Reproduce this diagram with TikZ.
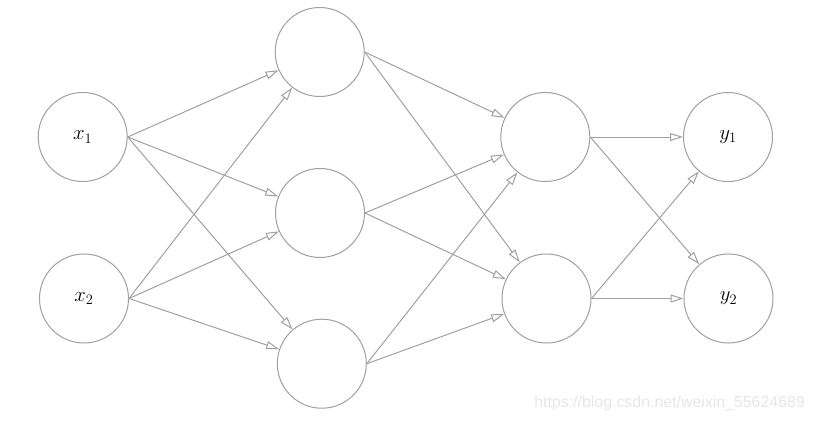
\documentclass[tikz,border=0pt]{standalone}
\usepackage{fontspec}
\usetikzlibrary{arrows.meta}
\newfontfamily\wmfont{Liberation Sans}
\definecolor{edgegray}{RGB}{160,160,160}
\definecolor{wmgray}{RGB}{230,230,230}
\begin{document}
\begin{tikzpicture}[x=1pt,y=-1pt,
  neuron/.style={circle,draw=edgegray,line width=1pt,minimum size=89pt,inner sep=0pt,
    font=\fontsize{21}{25}\selectfont},
  conn/.style={draw=edgegray,line width=1pt,-{Triangle[open,length=13pt,width=8pt]}}]
\useasboundingbox (0,0) rectangle (815,421);
\node[neuron] (x1) at (82.7,137) {$x_1$};
\node[neuron] (x2) at (84,298.5) {$x_2$};
\node[neuron] (h1) at (319.7,52) {};
\node[neuron] (h2) at (320,213) {};
\node[neuron] (h3) at (321.8,363.7) {};
\node[neuron] (g1) at (545.3,137) {};
\node[neuron] (g2) at (546.5,298.5) {};
\node[neuron] (y1) at (728,137) {$y_1$};
\node[neuron] (y2) at (728.5,298.5) {$y_2$};
\foreach \s in {x1,x2}{\foreach \t in {h1,h2,h3}{\draw[conn] (\s.east) -- (\t);}}
\foreach \s in {h1,h2,h3}{\foreach \t in {g1,g2}{\draw[conn] (\s.east) -- (\t);}}
\foreach \s in {g1,g2}{\foreach \t in {y1,y2}{\draw[conn] (\s.east) -- (\t);}}
\node[font=\wmfont\fontsize{15.9}{19}\selectfont,text=wmgray,anchor=east,inner sep=0pt] (wm) at (805,403) {https://blog.csdn.net/weixin\_55624689};
\end{tikzpicture}
\end{document}
